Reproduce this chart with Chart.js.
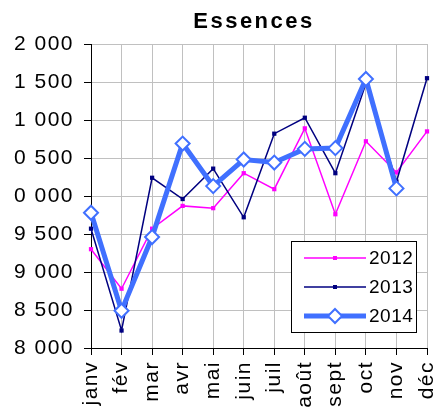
<!DOCTYPE html>
<html>
<head>
<meta charset="utf-8">
<script src="https://cdn.jsdelivr.net/npm/chart.js@4/dist/chart.umd.min.js"></script>
<style>
  html, body { margin: 0; padding: 0; background: #fff; }
  #wrap { width: 438px; height: 418px; }
</style>
</head>
<body>
<div id="wrap"><canvas id="c" width="438" height="418"></canvas></div>
<script>
// données
const months = ['janv', 'fév', 'mar', 'avr', 'mai', 'juin', 'juil', 'août', 'sept', 'oct', 'nov', 'déc'];
const values2012 = [9300, 8780, 9570, 9870, 9840, 10300, 10090, 10890, 9760, 10720, 10310, 10850];
const values2013 = [9570, 8230, 10240, 9960, 10360, 9720, 10820, 11030, 10300, 11480, 10190, 11550];
const values2014 = [9780, 8490, 9460, 10690, 10130, 10480, 10440, 10620, 10630, 11540, 10100, null];
const yTickLabels = ['8 000', '8 500', '9 000', '9 500', '0 000', '0 500', '1 000', '1 500', '2 000'];
const chartTitle = 'Essences';

const FONT = '"Liberation Sans", Arial, sans-serif';

// titre + légende dessinés à la main (légende dans la zone du graphique)
const extras = {
  id: 'extras',
  beforeLayout(chart) { chart.ctx.letterSpacing = '1.5px'; },
  beforeDraw(chart) { chart.ctx.letterSpacing = '1.5px'; },
  afterDraw(chart) {
    const ctx = chart.ctx;
    const area = chart.chartArea;
    ctx.save();
    // titre
    ctx.letterSpacing = '2.5px';
    ctx.fillStyle = '#000';
    ctx.font = 'bold 22px ' + FONT;
    ctx.textAlign = 'center';
    ctx.textBaseline = 'alphabetic';
    ctx.fillText(chartTitle, (area.left + area.right) / 2 - 5, 28);

    // légende
    const bx = 291, by = 241, bw = 125, bh = 91;
    ctx.fillStyle = '#fff';
    ctx.fillRect(bx, by, bw, bh);
    ctx.strokeStyle = '#000';
    ctx.lineWidth = 1;
    ctx.strokeRect(bx + 0.5, by + 0.5, bw, bh);
    ctx.letterSpacing = '0.5px';
    ctx.font = '19px ' + FONT;
    ctx.textAlign = 'left';
    ctx.textBaseline = 'middle';
    chart.data.datasets.forEach((ds, i) => {
      const y = by + 17 + i * 29;
      const x0 = bx + 13, x1 = bx + 75, xm = (x0 + x1) / 2;
      ctx.strokeStyle = ds.borderColor;
      ctx.lineWidth = ds.borderWidth;
      ctx.beginPath(); ctx.moveTo(x0, y); ctx.lineTo(x1, y); ctx.stroke();
      if (ds.pointStyle === 'rectRot') {
        const r = ds.pointRadius;
        ctx.beginPath();
        ctx.moveTo(xm, y - r); ctx.lineTo(xm + r, y); ctx.lineTo(xm, y + r); ctx.lineTo(xm - r, y); ctx.closePath();
        ctx.fillStyle = ds.pointBackgroundColor; ctx.fill();
        ctx.lineWidth = ds.pointBorderWidth; ctx.strokeStyle = ds.pointBorderColor; ctx.stroke();
      } else {
        ctx.fillStyle = ds.pointBackgroundColor;
        ctx.fillRect(xm - 2, y - 2, 4, 4);
      }
      ctx.fillStyle = '#000';
      ctx.fillText(ds.label, x1 + 3, y + 1);
    });
    ctx.restore();
  }
};

new Chart(document.getElementById('c'), {
  type: 'line',
  data: {
    labels: months,
    datasets: [
      {
        label: '2012', data: values2012, order: 2,
        borderColor: '#FF00FF', borderWidth: 1.5,
        pointStyle: 'rect', pointRadius: 3, pointBackgroundColor: '#FF00FF', pointBorderColor: '#FF00FF', pointBorderWidth: 0
      },
      {
        label: '2013', data: values2013, order: 1,
        borderColor: '#000080', borderWidth: 1.5,
        pointStyle: 'rect', pointRadius: 3, pointBackgroundColor: '#000080', pointBorderColor: '#000080', pointBorderWidth: 0
      },
      {
        label: '2014', data: values2014, order: 0,
        borderColor: '#4070FF', borderWidth: 5,
        pointStyle: 'rectRot', pointRadius: 7, pointBackgroundColor: '#fff', pointBorderColor: '#4070FF', pointBorderWidth: 2
      }
    ]
  },
  options: {
    responsive: false,
    animation: false,
    clip: false,
    layout: { padding: { top: 44, right: 11, left: 0, bottom: 0 } },
    plugins: {
      legend: { display: false },
      title: { display: false },
      tooltip: { enabled: false }
    },
    scales: {
      x: {
        offset: false,
        grid: { color: '#c0c0c0', tickColor: '#000', tickLength: 7 },
        border: { color: '#000', width: 1 },
        ticks: {
          autoSkip: false, minRotation: 90, maxRotation: 90, padding: 6,
          color: '#000', font: { family: FONT, size: 21, lineHeight: 1 }
        },
        afterFit(scale) { scale.height = 70; scale.paddingLeft = 0; scale.paddingRight = 0; }
      },
      y: {
        min: 8000, max: 12000,
        grid: { color: '#c0c0c0', tickColor: '#000', tickLength: 7 },
        border: { color: '#000', width: 1 },
        ticks: {
          stepSize: 500, padding: 10, color: '#000',
          font: { family: FONT, size: 21 },
          callback: (v) => yTickLabels[Math.round((v - 8000) / 500)]
        },
        afterFit(scale) { scale.width = 91; scale.paddingTop = 0; scale.paddingBottom = 0; }
      }
    }
  },
  plugins: [extras]
});
</script>
</body>
</html>
